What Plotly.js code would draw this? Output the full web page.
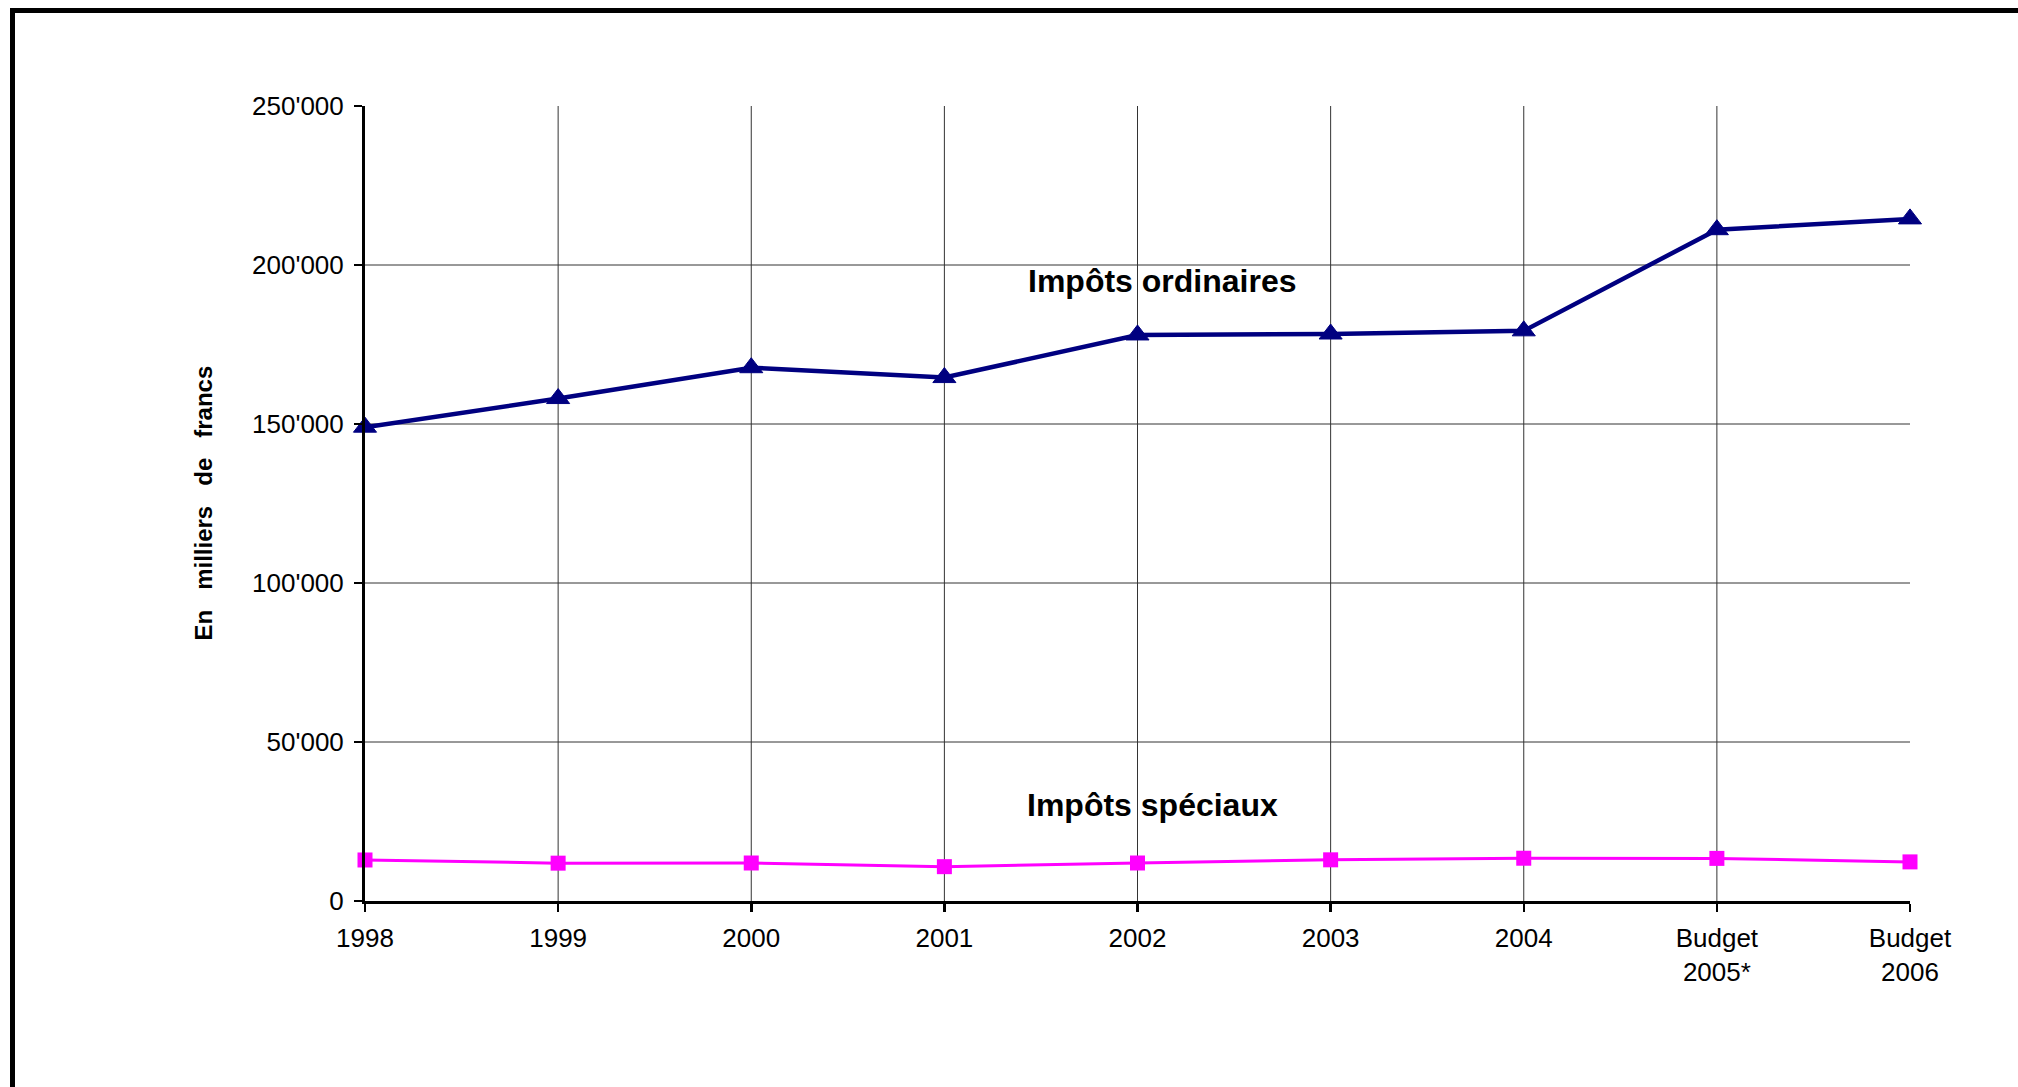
<!DOCTYPE html>
<html>
<head>
<meta charset="utf-8">
<script src="https://cdn.plot.ly/plotly-3.0.1.min.js"></script>
<style>
  html, body { margin: 0; padding: 0; background: #ffffff; }
  #chart { position: absolute; left: 0; top: 0; width: 2018px; height: 1087px; }
  #frame {
    position: absolute; left: 10px; top: 8px; width: 2200px; height: 1300px;
    border: 5px solid #000000; pointer-events: none;
  }
</style>
</head>
<body>
<div id="chart"></div>
<div id="frame"></div>
<script>
// Years on the horizontal axis (budget figures for the last two)
const years = ["1998", "1999", "2000", "2001", "2002", "2003", "2004", "Budget<br>2005*", "Budget<br>2006"];

// Tax revenue, in thousands of francs
const impotsOrdinaires = [149000, 158000, 167700, 164600, 178000, 178300, 179300, 211100, 214500];
const impotsSpeciaux   = [12900, 11900, 11950, 10800, 11950, 12950, 13450, 13400, 12300];

// Value axis ticks
const yTicks = [0, 50000, 100000, 150000, 200000, 250000];
const yGrid  = [50000, 100000, 150000, 200000];

// Series labels placed on the plot
const labelOrdinaires = "Impôts ordinaires";
const labelSpeciaux   = "Impôts spéciaux";
const yTitle = "En\u00a0\u00a0\u00a0milliers\u00a0\u00a0\u00a0de\u00a0\u00a0\u00a0francs";

const FONT = "'Liberation Sans', Arial, sans-serif";

const traces = [
  {
    x: years, y: impotsOrdinaires, type: "scatter", mode: "lines+markers",
    name: labelOrdinaires,
    line: { color: "#000080", width: 4.5 },
    marker: { symbol: "triangle-up", size: 20, color: "#000080",
              line: { color: "#000080", width: 1 } },
    cliponaxis: false
  },
  {
    x: years, y: impotsSpeciaux, type: "scatter", mode: "lines+markers",
    name: labelSpeciaux,
    line: { color: "#FF00FF", width: 3 },
    marker: { symbol: "square", size: 15, color: "#FF00FF" },
    cliponaxis: false
  }
];

// Gridlines: vertical at the inner years, horizontal at inner value ticks
// (category positions are given by index along the axis)
const gridStyle = { color: "#333333", width: 1 };
const shapes = [];
for (let i = 1; i < years.length - 1; i++) {
  shapes.push({
    type: "line", xref: "x", yref: "y", layer: "below",
    x0: i, x1: i, y0: yTicks[0], y1: yTicks[yTicks.length - 1],
    line: gridStyle
  });
}
yGrid.forEach(function (v) {
  shapes.push({
    type: "line", xref: "x", yref: "y", layer: "below",
    x0: 0, x1: years.length - 1, y0: v, y1: v,
    line: gridStyle
  });
});

const layout = {
  width: 2018, height: 1087,
  margin: { l: 365, r: 108, t: 106, b: 186, pad: 0 },
  paper_bgcolor: "#ffffff", plot_bgcolor: "#ffffff",
  separators: ".'",
  showlegend: false,
  font: { family: FONT, size: 26, color: "#000000" },
  xaxis: {
    type: "category", range: [0, years.length - 1],
    showgrid: false, zeroline: false,
    showline: true, linecolor: "#000000", linewidth: 2.5,
    ticks: "outside", ticklen: 8, tickwidth: 2.5, tickcolor: "#000000",
    ticklabelstandoff: 4,
    tickfont: { family: FONT, size: 26, color: "#000000" },
    fixedrange: true
  },
  yaxis: {
    range: [yTicks[0], yTicks[yTicks.length - 1]],
    tickvals: yTicks, tickformat: ",d",
    showgrid: false, zeroline: false,
    showline: true, linecolor: "#000000", linewidth: 3,
    ticks: "outside", ticklen: 8, tickwidth: 2.5, tickcolor: "#000000",
    ticklabelstandoff: 5,
    tickfont: { family: FONT, size: 26, color: "#000000" },
    fixedrange: true
  },
  shapes: shapes,
  annotations: [
    {
      text: "<b>" + labelOrdinaires + "</b>", xref: "x", yref: "y",
      x: 4.13, y: 195000, showarrow: false, xanchor: "center", yanchor: "middle",
      font: { family: FONT, size: 32, color: "#000000" }
    },
    {
      text: "<b>" + labelSpeciaux + "</b>", xref: "x", yref: "y",
      x: 4.08, y: 30200, showarrow: false, xanchor: "center", yanchor: "middle",
      font: { family: FONT, size: 32, color: "#000000" }
    },
    {
      text: "<b>" + yTitle + "</b>", xref: "paper", yref: "paper",
      x: (203 - 365) / 1545, y: 0.5, textangle: -90,
      showarrow: false, xanchor: "center", yanchor: "middle",
      font: { family: FONT, size: 24, color: "#000000" }
    }
  ]
};

Plotly.newPlot("chart", traces, layout, { displayModeBar: false, staticPlot: true });
</script>
</body>
</html>
